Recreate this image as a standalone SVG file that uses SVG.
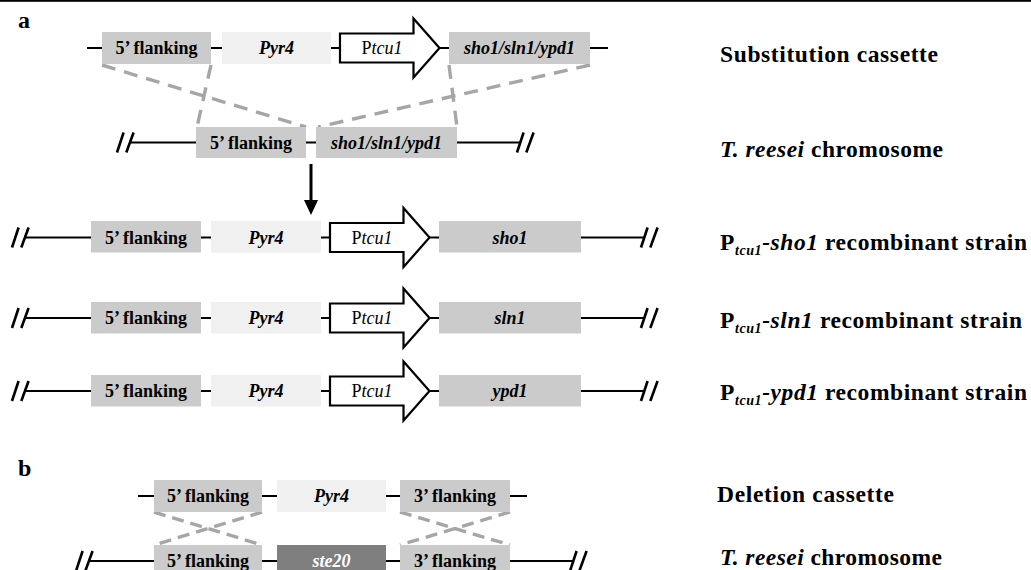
<svg xmlns="http://www.w3.org/2000/svg" width="1031" height="570" viewBox="0 0 1031 570">
<style>
.bx{fill:#cbcbcb}
.lt{fill:#f0f0f0}
.dk{fill:#7f7f7f}
.t{font-family:"Liberation Serif","Times New Roman",serif;font-size:18px;font-weight:bold;fill:#000;text-anchor:middle}
.i{font-style:italic}
.n{font-weight:normal}
.w{fill:#fff}
.lab{font-family:"Liberation Serif","Times New Roman",serif;font-size:23.5px;font-weight:bold;fill:#000}
.sub{font-size:14px}
.bb{stroke:#000;stroke-width:2.2;fill:none}
.dash{stroke:#a6a6a6;stroke-width:3.4;stroke-dasharray:14 9;fill:none}
.dashb{stroke:#a6a6a6;stroke-width:3.4;stroke-dasharray:12 7;fill:none}
.br{stroke:#000;stroke-width:2.6}
.pr{fill:#fff;stroke:#000;stroke-width:2.2;stroke-linejoin:miter}
</style>
<defs>
<path id="prom" class="pr" d="M0,-14.5 H73.5 V-29.5 L99.5,0 L73.5,29.5 V14.5 H0 Z"/>
<g id="brk"><line class="br" x1="0" y1="10" x2="6.6" y2="-10"/><line class="br" x1="9.3" y1="10" x2="16.6" y2="-10"/></g>
</defs>
<rect x="0" y="0" width="1031" height="1.8" fill="#000"/>
<text x="18" y="28" style="font-family:'Liberation Serif',serif;font-size:24px;font-weight:bold">a</text>
<text x="18" y="476" style="font-family:'Liberation Serif',serif;font-size:24px;font-weight:bold">b</text>

<g id="connectors">
<line class="bb" x1="87" y1="48" x2="608" y2="48"/>
<line class="bb" x1="130" y1="142.5" x2="520" y2="142.5"/>
<line class="bb" x1="25" y1="237.5" x2="644" y2="237.5"/>
<line class="bb" x1="25" y1="318" x2="644" y2="318"/>
<line class="bb" x1="25" y1="391" x2="644" y2="391"/>
<line class="bb" x1="138" y1="496" x2="527" y2="496"/>
<line class="bb" x1="89" y1="561" x2="573" y2="561"/>
<use href="#brk" x="117" y="142.5"/>
<use href="#brk" x="517" y="142.5"/>
<use href="#brk" x="12" y="237.5"/>
<use href="#brk" x="641" y="237.5"/>
<use href="#brk" x="12" y="318"/>
<use href="#brk" x="641" y="318"/>
<use href="#brk" x="12" y="391"/>
<use href="#brk" x="641" y="391"/>
<use href="#brk" x="76" y="561"/>
<use href="#brk" x="570" y="561"/>
<line class="dash" x1="102" y1="65" x2="306" y2="127"/>
<line class="dash" x1="211" y1="65" x2="197" y2="127"/>
<line class="dash" x1="449" y1="65" x2="457" y2="127"/>
<line class="dash" x1="590" y1="65" x2="318" y2="127"/>
<line class="dashb" x1="154" y1="512" x2="262" y2="545"/>
<line class="dashb" x1="262" y1="512" x2="154" y2="545"/>
<line class="dashb" x1="400" y1="512" x2="510" y2="545"/>
<line class="dashb" x1="510" y1="512" x2="400" y2="545"/>
<line x1="311" y1="164" x2="311" y2="203" stroke="#000" stroke-width="3"/>
<path d="M304,200 L318,200 L311,215 Z" fill="#000"/>
</g>

<g id="row1">
<g id="r1-5f"><rect class="bx" x="102" y="32" width="109" height="32"/><text class="t" x="156.5" y="54">5’ flanking</text></g>
<g id="r1-pyr4"><rect class="lt" x="222" y="32" width="109" height="32"/><text class="t i" x="276.5" y="54">Pyr4</text></g>
<g id="r1-ptcu1"><use href="#prom" x="340" y="48"/><text class="t n" x="382" y="54">P<tspan class="i">tcu1</tspan></text></g>
<g id="r1-gene"><rect class="bx" x="449" y="32" width="141" height="32"/><text class="t i" x="519.5" y="54">sho1/sln1/ypd1</text></g>
</g>

<g id="row2">
<g id="r2-5f"><rect class="bx" x="196" y="127" width="110" height="31"/><text class="t" x="251" y="148.5">5’ flanking</text></g>
<g id="r2-gene"><rect class="bx" x="316" y="127" width="141" height="31"/><text class="t i" x="386.5" y="148.5">sho1/sln1/ypd1</text></g>
</g>

<g id="row3">
<g id="r3-5f"><rect class="bx" x="91" y="221" width="110" height="31.5"/><text class="t" x="146" y="243.5">5’ flanking</text></g>
<g id="r3-pyr4"><rect class="lt" x="211" y="221" width="110" height="31.5"/><text class="t i" x="266" y="243.5">Pyr4</text></g>
<g id="r3-ptcu1"><use href="#prom" x="330" y="237.5"/><text class="t n" x="372" y="243.5">P<tspan class="i">tcu1</tspan></text></g>
<g id="r3-gene"><rect class="bx" x="439" y="221" width="142" height="31.5"/><text class="t i" x="510" y="243.5">sho1</text></g>
</g>

<g id="row4">
<g id="r4-5f"><rect class="bx" x="91" y="302" width="110" height="31.5"/><text class="t" x="146" y="324">5’ flanking</text></g>
<g id="r4-pyr4"><rect class="lt" x="211" y="302" width="110" height="31.5"/><text class="t i" x="266" y="324">Pyr4</text></g>
<g id="r4-ptcu1"><use href="#prom" x="330" y="318"/><text class="t n" x="372" y="324">P<tspan class="i">tcu1</tspan></text></g>
<g id="r4-gene"><rect class="bx" x="439" y="302" width="142" height="31.5"/><text class="t i" x="510" y="324">sln1</text></g>
</g>

<g id="row5">
<g id="r5-5f"><rect class="bx" x="91" y="375" width="110" height="31.5"/><text class="t" x="146" y="397">5’ flanking</text></g>
<g id="r5-pyr4"><rect class="lt" x="211" y="375" width="110" height="31.5"/><text class="t i" x="266" y="397">Pyr4</text></g>
<g id="r5-ptcu1"><use href="#prom" x="330" y="391"/><text class="t n" x="372" y="397">P<tspan class="i">tcu1</tspan></text></g>
<g id="r5-gene"><rect class="bx" x="439" y="375" width="142" height="31.5"/><text class="t i" x="510" y="397">ypd1</text></g>
</g>

<g id="rowb1">
<g id="b1-5f"><rect class="bx" x="154" y="480" width="108" height="32"/><text class="t" x="208" y="502">5’ flanking</text></g>
<g id="b1-pyr4"><rect class="lt" x="277" y="480" width="109" height="32"/><text class="t i" x="331.5" y="502">Pyr4</text></g>
<g id="b1-3f"><rect class="bx" x="400" y="480" width="110" height="32"/><text class="t" x="455" y="502">3’ flanking</text></g>
</g>

<g id="rowb2">
<g id="b2-5f"><rect class="bx" x="154" y="545" width="108" height="32"/><text class="t" x="208" y="567">5’ flanking</text></g>
<g id="b2-ste20"><rect class="dk" x="277" y="545" width="109" height="32"/><text class="t i w" x="331.5" y="567">ste20</text></g>
<g id="b2-3f"><rect class="bx" x="400" y="545" width="110" height="32"/><text class="t" x="455" y="567">3’ flanking</text></g>
</g>

<g id="labels">
<text class="lab" x="720" y="62" textLength="218" lengthAdjust="spacing">Substitution cassette</text>
<text class="lab" x="720" y="157" textLength="223" lengthAdjust="spacing"><tspan class="i">T. reesei</tspan> chromosome</text>
<text class="lab" x="720" y="250" textLength="307" lengthAdjust="spacing">P<tspan class="sub i" dy="5">tcu1</tspan><tspan class="i" dy="-5">-sho1</tspan> recombinant strain</text>
<text class="lab" x="720" y="328" textLength="302" lengthAdjust="spacing">P<tspan class="sub i" dy="5">tcu1</tspan><tspan class="i" dy="-5">-sln1</tspan> recombinant strain</text>
<text class="lab" x="720" y="400" textLength="307" lengthAdjust="spacing">P<tspan class="sub i" dy="5">tcu1</tspan><tspan class="i" dy="-5">-ypd1</tspan> recombinant strain</text>
<text class="lab" x="717" y="502" textLength="177" lengthAdjust="spacing">Deletion cassette</text>
<text class="lab" x="720" y="565" textLength="222" lengthAdjust="spacing"><tspan class="i">T. reesei</tspan> chromosome</text>
</g>
</svg>
